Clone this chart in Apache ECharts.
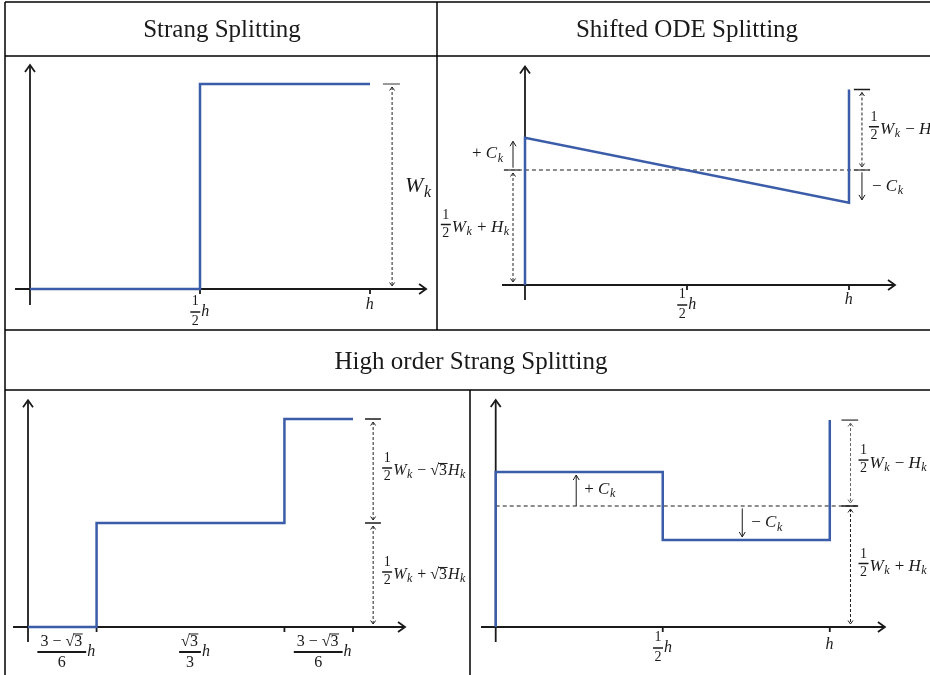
<!DOCTYPE html>
<html><head><meta charset="utf-8">
<script src="https://cdn.jsdelivr.net/npm/echarts@6/dist/echarts.min.js"></script>
<style>html,body{margin:0;padding:0;background:#fff}#c{width:930px;height:675px}</style>
</head><body><div id="c"></div>
<script>
// ---------------- data ----------------
// Panel 1: Strang splitting (h = 1, W_k = 1)
const strangX = [0, 0.5, 0.5, 1];
const strangY = [0, 0, 1, 1];
const strangTicks = [0.5, 1];
// Panel 2: shifted ODE splitting (mean level ½W+H = 1)
const odeX = [0, 0, 1, 1];
const odeY = [0, 1.28, 0.715, 1.70];
const odeMean = 1;
const odeTicks = [0.5, 1];
// Panel 3: high order Strang splitting
const hoX = [0, 0.211, 0.211, 0.789, 0.789, 1];
const hoY = [0, 0, 1, 1, 2, 2];
const hoTicks = [0.211, 0.789, 1];
// Panel 4: high order shifted splitting
const hsX = [0, 0, 0.5, 0.5, 1, 1];
const hsY = [0, 1.28, 1.28, 0.72, 0.72, 1.71];
const hsMean = 1;
const hsTicks = [0.5, 1];
const titles = ['Strang Splitting', 'Shifted ODE Splitting', 'High order Strang Splitting'];

// ---------------- math text layout ----------------
const K = '#1a1a1a';
const FAM = '"Liberation Serif", "DejaVu Serif", serif';
const cv = document.createElement('canvas').getContext('2d');
function F(sz, it){ return (it ? 'italic ' : '') + sz + 'px ' + FAM; }
function tw(t, f){ cv.font = f; return cv.measureText(t).width; }
function txt(t, x, y, f){ return {type:'text', silent:true, style:{text:t, x:x, y:y, font:f, fill:K, textAlign:'left', textVerticalAlign:'middle'}}; }
function lay(tokens, S){
  const parts = tokens.map(t => part(t, S));
  const w = parts.reduce((a, p) => a + p.w, 0);
  return {w: w, draw: function(x, y){ let out = []; let cx = x; parts.forEach(p => { out = out.concat(p.draw(cx, y)); cx += p.w; }); return out; }};
}
function part(tok, S){
  if (typeof tok === 'string'){ const f = F(S, false); return {w: tw(tok, f), draw: (x, y) => [txt(tok, x, y, f)]}; }
  if (tok.i){ const f = F(S, true); return {w: tw(tok.i, f) + S * 0.03, draw: (x, y) => [txt(tok.i, x, y, f)]}; }
  if (tok.s){ const s = Math.round(S * 0.72); const f = F(s, true); return {w: tw(tok.s, f) + 1, draw: (x, y) => [txt(tok.s, x, y + S * 0.27, f)]}; }
  if (tok.r){
    const f = F(S, false); const w1 = tw('√', f), w2 = tw(tok.r, f);
    return {w: w1 + w2 + 1, draw: (x, y) => [txt('√', x, y, f), txt(tok.r, x + w1, y, f),
      {type:'line', silent:true, shape:{x1:x + w1 - 1, y1:y - S * 0.47, x2:x + w1 + w2 + 0.5, y2:y - S * 0.47}, style:{stroke:K, lineWidth:1}}]};
  }
  if (tok.f){
    const s = tok.fs || Math.round(S * 0.82);
    const n = lay(tok.f[0], s), d = lay(tok.f[1], s);
    const pad = tok.pad != null ? tok.pad : 2;
    const w = Math.max(n.w, d.w) + 2 * pad;
    return {w: w + 1, draw: (x, y) => {
      const by = y - (tok.raise || 0);
      return [].concat(n.draw(x + (w - n.w) / 2, by - (tok.nu || 9)),
        [{type:'line', silent:true, shape:{x1:x, y1:by, x2:x + w, y2:by}, style:{stroke:K, lineWidth:tok.bw || 1.4}}],
        d.draw(x + (w - d.w) / 2, by + (tok.de || 8)));
    }};
  }
  return {w:0, draw: () => []};
}
function mathEls(tokens, S, x, y, align){
  const L = lay(tokens, S);
  const x0 = align === 'right' ? x - L.w : (align === 'center' ? x - L.w / 2 : x);
  return L.draw(x0, y);
}

// labels
const half = {f:[['1'], ['2']], fs:14, raise:3, nu:9.5, de:8.5, pad:1.5, bw:1.5};
const halfTick = {f:[['1'], ['2']], fs:14, raise:0, nu:10.5, de:9, pad:1.5, bw:1.5};
const lblWk = [{i:'W'}, {s:'k'}];
const lblHalfWplusH = [half, {i:'W'}, {s:'k'}, ' + ', {i:'H'}, {s:'k'}];
const lblHalfWminusH = [half, {i:'W'}, {s:'k'}, ' − ', {i:'H'}, {s:'k'}];
const lblPlusC = ['+ ', {i:'C'}, {s:'k'}];
const lblMinusC = ['− ', {i:'C'}, {s:'k'}];
const lblHalfWminusR3H = [half, {i:'W'}, {s:'k'}, ' − ', {r:'3'}, {i:'H'}, {s:'k'}];
const lblHalfWplusR3H = [half, {i:'W'}, {s:'k'}, ' + ', {r:'3'}, {i:'H'}, {s:'k'}];
const tickHalfH = [halfTick, {i:'h'}];
const tickH = [{i:'h'}];
const tickA = {f:[['3 − ', {r:'3'}], ['6']], fs:16, nu:10.5, de:10.5, pad:3, bw:2};
const tickB = {f:[[{r:'3'}], ['3']], fs:16, nu:10.5, de:10.5, pad:2, bw:2};
const hoTickLabels = [tickA, tickB, tickA];

// ---------------- drawing helpers ----------------
function seg(p, q, color, w, dash){ return {type:'line', silent:true, shape:{x1:p[0], y1:p[1], x2:q[0], y2:q[1]}, style:{stroke:color || K, lineWidth:w || 1, lineDash:dash || null}}; }
function dirOf(p, q){ const dx = q[0] - p[0], dy = q[1] - p[1]; const L = Math.hypot(dx, dy) || 1; return [dx / L, dy / L]; }
function head(tip, ux, uy, len, hw, color, w){
  const bx = tip[0] - ux * len, by = tip[1] - uy * len; const px = -uy, py = ux;
  return {type:'polyline', silent:true, shape:{points:[[bx + px * hw, by + py * hw], tip, [bx - px * hw, by - py * hw]]}, style:{stroke:color || K, lineWidth:w || 1, fill:'none'}};
}
function axisArrow(p, q){ const d = dirOf(p, q); return [seg(p, q, K, 1.8), head(q, d[0], d[1], 7, 5, K, 1.8)]; }
function solidArrow(p, q){ const d = dirOf(p, q); return [seg(p, q, K, 1), head(q, d[0], d[1], 5, 3, K, 1)]; }
function dashedDouble(p, q, color){
  const g = 3; const d = dirOf(p, q); const col = color || '#222';
  const a = [p[0] + d[0] * g, p[1] + d[1] * g], b = [q[0] - d[0] * g, q[1] - d[1] * g];
  return [seg(a, b, col, 1, [3, 2]), head(a, -d[0], -d[1], 3.5, 2.5, col, 1), head(b, d[0], d[1], 3.5, 2.5, col, 1)];
}
function ticks(c, arr){ return arr.map(t => { const p = c([t, 0]); return seg([p[0], p[1] - 1], [p[0], p[1] + 5], K, 1.8); }); }

// ---------------- panel renderers ----------------
const LS = 17; // label font size
function render1(api){
  const c = v => api.coord(v);
  let e = [];
  const top = strangY[strangY.length - 1];
  e = e.concat(axisArrow(c([0, -0.078]), c([0, 1.093])), axisArrow(c([-0.044, 0]), c([1.165, 0])), ticks(c, strangTicks));
  e.push(seg(c([1.038, top]), c([1.088, top]), '#777', 1.5));
  e = e.concat(dashedDouble(c([1.065, top]), c([1.065, 0])));
  const lp = c([1.065, top / 2]); e = e.concat(mathEls(lblWk, 22, lp[0] + 13, lp[1], 'left'));
  let p = c([strangTicks[0], 0]); e = e.concat(mathEls(tickHalfH, 16, p[0], p[1] + 23, 'center'));
  p = c([strangTicks[1], 0]); e = e.concat(mathEls(tickH, 16, p[0], p[1] + 16, 'center'));
  return e;
}
function render2(api){
  const c = v => api.coord(v);
  let e = [];
  const yTop = odeY[3], yHi = odeY[1], yLo = odeY[2];
  e = e.concat(axisArrow(c([0, -0.13]), c([0, 1.9])), axisArrow(c([-0.071, 0]), c([1.142, 0])), ticks(c, odeTicks));
  e.push(seg(c([-0.065, odeMean]), c([1.065, odeMean]), K, 1, [4, 3]));
  const xl = -0.037;
  e.push(seg(c([-0.065, odeMean]), c([-0.015, odeMean]), '#555', 1.5));
  e = e.concat(solidArrow(c([xl, odeMean + 0.02]), c([xl, yHi - 0.03])));
  e = e.concat(dashedDouble(c([xl, odeMean]), c([xl, 0])));
  let p = c([xl, (odeMean + yHi) / 2]); e = e.concat(mathEls(lblPlusC, LS, p[0] - 9, p[1], 'right'));
  p = c([xl, odeMean / 2]); e = e.concat(mathEls(lblHalfWplusH, LS, p[0] - 3, p[1], 'right'));
  const xr = 1.04;
  e.push(seg(c([1.015, yTop]), c([1.065, yTop]), K, 1.5));
  e.push(seg(c([1.015, odeMean]), c([1.065, odeMean]), '#555', 1.5));
  e = e.concat(dashedDouble(c([xr, yTop]), c([xr, odeMean])));
  e = e.concat(solidArrow(c([xr, odeMean - 0.02]), c([xr, yLo + 0.025])));
  p = c([xr, (odeMean + yTop) / 2]); e = e.concat(mathEls(lblHalfWminusH, LS, p[0] + 7, p[1], 'left'));
  p = c([xr, (odeMean + yLo) / 2]); e = e.concat(mathEls(lblMinusC, LS, p[0] + 10, p[1], 'left'));
  p = c([odeTicks[0], 0]); e = e.concat(mathEls(tickHalfH, 16, p[0], p[1] + 20, 'center'));
  p = c([odeTicks[1], 0]); e = e.concat(mathEls(tickH, 16, p[0], p[1] + 15, 'center'));
  return e;
}
function render3(api){
  const c = v => api.coord(v);
  let e = [];
  e = e.concat(axisArrow(c([0, -0.144]), c([0, 2.18])), axisArrow(c([-0.046, 0]), c([1.16, 0])), ticks(c, hoTicks));
  const l1 = hoY[2], l2 = hoY[4], xa = 1.062;
  e.push(seg(c([1.037, l2]), c([1.086, l2]), K, 1.5));
  e.push(seg(c([1.037, l1]), c([1.086, l1]), K, 1.5));
  e = e.concat(dashedDouble(c([xa, l2]), c([xa, l1])), dashedDouble(c([xa, l1]), c([xa, 0])));
  let p = c([xa, (l1 + l2) / 2]); e = e.concat(mathEls(lblHalfWminusR3H, 16, p[0] + 9, p[1], 'left'));
  p = c([xa, l1 / 2]); e = e.concat(mathEls(lblHalfWplusR3H, 16, p[0] + 9, p[1], 'left'));
  const bounds = [0].concat(hoTicks);
  for (let i = 0; i < hoTicks.length; i++){
    const a = c([bounds[i], 0]), b = c([bounds[i + 1], 0]);
    const mid = (a[0] + b[0]) / 2;
    const fr = lay([hoTickLabels[i]], 16);
    e = e.concat(mathEls([hoTickLabels[i], {i:'h'}], 16, mid - fr.w / 2, a[1] + 25, 'left'));
  }
  return e;
}
function render4(api){
  const c = v => api.coord(v);
  let e = [];
  const yHi = hsY[1], yLo = hsY[3], yTop = hsY[5];
  e = e.concat(axisArrow(c([0, -0.124]), c([0, 1.876])), axisArrow(c([-0.044, 0]), c([1.165, 0])), ticks(c, hsTicks));
  e.push(seg(c([0, hsMean]), c([1.085, hsMean]), K, 1, [4, 3]));
  e = e.concat(solidArrow(c([0.241, hsMean]), c([0.241, yHi - 0.024])));
  let p = c([0.241, (hsMean + yHi) / 2]); e = e.concat(mathEls(lblPlusC, LS, p[0] + 8, p[1], 'left'));
  e = e.concat(solidArrow(c([0.738, hsMean - 0.02]), c([0.738, yLo + 0.024])));
  p = c([0.738, (hsMean + yLo) / 2]); e = e.concat(mathEls(lblMinusC, LS, p[0] + 9, p[1], 'left'));
  const xa = 1.062;
  e.push(seg(c([1.035, yTop]), c([1.085, yTop]), '#555', 1.5));
  e.push(seg(c([1.035, hsMean]), c([1.085, hsMean]), K, 1.5));
  e = e.concat(dashedDouble(c([xa, yTop]), c([xa, hsMean]), '#666'), dashedDouble(c([xa, hsMean]), c([xa, 0])));
  p = c([xa, (hsMean + yTop) / 2]); e = e.concat(mathEls(lblHalfWminusH, LS, p[0] + 8, p[1], 'left'));
  p = c([xa, hsMean / 2]); e = e.concat(mathEls(lblHalfWplusH, LS, p[0] + 8, p[1], 'left'));
  p = c([hsTicks[0], 0]); e = e.concat(mathEls(tickHalfH, 16, p[0], p[1] + 21, 'center'));
  p = c([hsTicks[1], 0]); e = e.concat(mathEls(tickH, 16, p[0], p[1] + 18, 'center'));
  return e;
}

// ---------------- layout ----------------
const panels = [
  {o:[30, 289], u:[340, 205], x:[-0.07, 1.25], y:[-0.12, 1.15]},
  {o:[525, 285], u:[324, 115], x:[-0.25, 1.25], y:[-0.3, 2.0]},
  {o:[28, 627], u:[325, 104], x:[-0.05, 1.35], y:[-0.3, 2.3]},
  {o:[496, 627], u:[340, 121], x:[-0.05, 1.3], y:[-0.3, 2.0]}
];
const renderers = [render1, render2, render3, render4];
const stepData = [[strangX, strangY], [odeX, odeY], [hoX, hoY], [hsX, hsY]];
const BLUE = '#3b5ca8';

const series = [];
panels.forEach((p, i) => {
  series.push({type:'custom', xAxisIndex:i, yAxisIndex:i, data:[[0, 0]], silent:true, z:2, clip:false,
    renderItem: (params, api) => ({type:'group', children: renderers[i](api)})});
  series.push({type:'line', xAxisIndex:i, yAxisIndex:i, z:5, symbol:'none', silent:true, clip:false, animation:false,
    data: stepData[i][0].map((x, k) => [x, stepData[i][1][k]]),
    lineStyle:{color:BLUE, width:2.5, join:'miter'}});
});

const tableLines = [
  [5, 2, 930, 2], [5, 2, 5, 675], [5, 56, 930, 56], [5, 330, 930, 330], [5, 390, 930, 390],
  [437, 2, 437, 330], [470, 390, 470, 675]
];
const graphic = tableLines.map(l => ({type:'line', silent:true, shape:{x1:l[0], y1:l[1], x2:l[2], y2:l[3]}, style:{stroke:'#000', lineWidth:1.5}}));
[[titles[0], 222, 30], [titles[1], 687, 30], [titles[2], 471, 362]].forEach(t => {
  graphic.push({type:'text', silent:true, x:t[1], y:t[2], style:{text:t[0], font:'25px ' + FAM, fill:K, textAlign:'center', textVerticalAlign:'middle'}});
});

const chart = echarts.init(document.getElementById('c'), null, {renderer:'canvas'});
chart.setOption({
  animation:false,
  backgroundColor:'#fff',
  grid: panels.map(p => ({left:p.o[0] + p.u[0] * p.x[0], top:p.o[1] - p.u[1] * p.y[1], width:p.u[0] * (p.x[1] - p.x[0]), height:p.u[1] * (p.y[1] - p.y[0]), containLabel:false})),
  xAxis: panels.map((p, i) => ({type:'value', gridIndex:i, min:p.x[0], max:p.x[1], show:false})),
  yAxis: panels.map((p, i) => ({type:'value', gridIndex:i, min:p.y[0], max:p.y[1], show:false})),
  graphic: graphic,
  series: series
});
</script></body></html>
